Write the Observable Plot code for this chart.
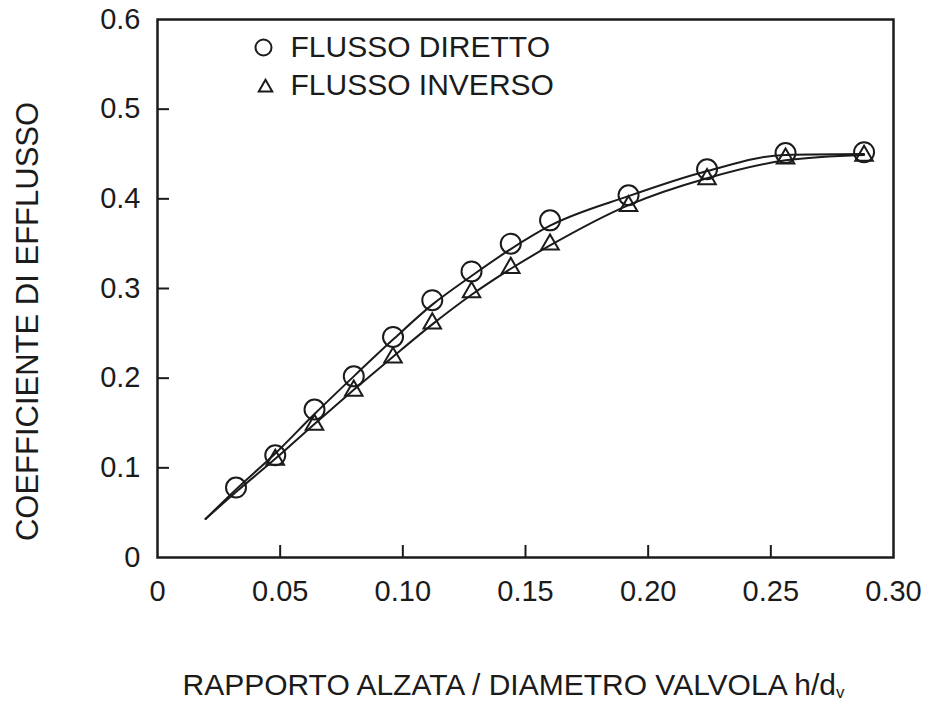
<!DOCTYPE html>
<html>
<head>
<meta charset="utf-8">
<script src="https://cdn.jsdelivr.net/npm/d3@7"></script>
<script src="https://cdn.jsdelivr.net/npm/@observablehq/plot@0.6"></script>
<style>
  html, body { margin: 0; padding: 0; background: #fff; }
  #chart svg { display: block; }
</style>
</head>
<body>
<div id="chart"></div>
<script>
// Lift ratio h/dv at which the discharge coefficient was measured
const liftRatio = [0.032, 0.048, 0.064, 0.080, 0.096, 0.112, 0.128, 0.144, 0.160, 0.192, 0.224, 0.256, 0.288];

// Measured discharge coefficients
const forwardFlow = [0.078, 0.114, 0.165, 0.202, 0.246, 0.287, 0.319, 0.350, 0.376, 0.404, 0.433, 0.451, 0.452];
const reverseLift = [0.048, 0.064, 0.080, 0.096, 0.112, 0.128, 0.144, 0.160, 0.192, 0.224, 0.256, 0.288];
const reverseFlow = [0.109, 0.148, 0.186, 0.223, 0.261, 0.296, 0.323, 0.349, 0.392, 0.422, 0.445, 0.448];

// Fitted curves (knots of the smooth trend lines)
const fitLift       = [0.0196, 0.032, 0.048, 0.064, 0.080, 0.096, 0.112, 0.128, 0.144, 0.160, 0.192, 0.224, 0.256, 0.288];
const forwardFitVal = [0.043, 0.076, 0.116, 0.160, 0.202, 0.243, 0.282, 0.314, 0.344, 0.370, 0.403, 0.431, 0.449, 0.450];
const reverseFitVal = [0.043, 0.073, 0.110, 0.149, 0.187, 0.224, 0.260, 0.293, 0.322, 0.348, 0.393, 0.423, 0.443, 0.449];

// Axis ticks and their labels
const xTickValues = [0, 0.05, 0.10, 0.15, 0.20, 0.25, 0.30];
const xTickLabels = ["0", "0.05", "0.10", "0.15", "0.20", "0.25", "0.30"];
const yTickValues = [0, 0.1, 0.2, 0.3, 0.4, 0.5, 0.6];
const yTickLabels = ["0", "0.1", "0.2", "0.3", "0.4", "0.5", "0.6"];
const xTickMarks = [0.05, 0.10, 0.15, 0.20, 0.25];
const yTickMarks = [0.1, 0.2, 0.3, 0.4, 0.5];

// Texts
const seriesNames = ["FLUSSO DIRETTO", "FLUSSO INVERSO"];
const xTitle = "RAPPORTO ALZATA / DIAMETRO VALVOLA h/d";
const xTitleSub = "v";
const yTitle = "COEFFICIENTE DI EFFLUSSO";

const forwardPoints = liftRatio.map((x, i) => ({x, y: forwardFlow[i]}));
const reversePoints = reverseLift.map((x, i) => ({x, y: reverseFlow[i]}));
const forwardFit = fitLift.map((x, i) => ({x, y: forwardFitVal[i]}));
const reverseFit = fitLift.map((x, i) => ({x, y: reverseFitVal[i]}));

const xLabel = new Map(xTickValues.map((v, i) => [v, xTickLabels[i]]));
const yLabel = new Map(yTickValues.map((v, i) => [v, yTickLabels[i]]));

const W = 938, H = 704;
const M = {top: 19, right: 45, bottom: 147, left: 157};
const innerW = W - M.left - M.right;
const innerH = H - M.top - M.bottom;
const ink = "#1b1b1b";
const tickLen = 12;

const plot = Plot.plot({
  width: W,
  height: H,
  marginTop: M.top,
  marginRight: M.right,
  marginBottom: M.bottom,
  marginLeft: M.left,
  style: {fontFamily: "'Liberation Sans', Arial, sans-serif", color: ink, background: "#fff"},
  x: {domain: [0, 0.30]},
  y: {domain: [0, 0.6]},
  marks: [
    Plot.axisX({ticks: xTickValues, tickFormat: d => xLabel.get(d), tickSize: 0, tickPadding: 23, fontSize: 29, label: null}),
    Plot.axisY({ticks: yTickValues, tickFormat: d => yLabel.get(d), tickSize: 0, tickPadding: 17, fontSize: 29, label: null}),
    // inward tick marks
    Plot.ruleX(xTickMarks, {x: d => d, insetTop: innerH - tickLen, stroke: ink, strokeWidth: 2}),
    Plot.ruleY(yTickMarks, {y: d => d, insetRight: innerW - tickLen, stroke: ink, strokeWidth: 2}),
    Plot.frame({stroke: ink, strokeWidth: 2.5}),
    // fitted curves
    Plot.line(forwardFit, {x: "x", y: "y", curve: "monotone-x", stroke: ink, strokeWidth: 2}),
    Plot.line(reverseFit, {x: "x", y: "y", curve: "monotone-x", stroke: ink, strokeWidth: 2}),
    // measurements
    Plot.dot(forwardPoints, {x: "x", y: "y", r: 10, stroke: ink, strokeWidth: 2, fill: "none"}),
    Plot.dot(reversePoints, {x: "x", y: "y", symbol: "triangle", r: 6.5, stroke: ink, strokeWidth: 2, fill: "none"}),
    // legend
    Plot.dot([0], {frameAnchor: "top-left", dx: 106, dy: 28, r: 8, stroke: ink, strokeWidth: 2, fill: "none"}),
    Plot.dot([0], {frameAnchor: "top-left", dx: 108, dy: 68, symbol: "triangle", r: 5, stroke: ink, strokeWidth: 2, fill: "none"}),
    Plot.text([seriesNames[0]], {frameAnchor: "top-left", dx: 133, dy: 28, text: d => d, textAnchor: "start", lineAnchor: "middle", fontSize: 30, fill: ink}),
    Plot.text([seriesNames[1]], {frameAnchor: "top-left", dx: 133, dy: 66, text: d => d, textAnchor: "start", lineAnchor: "middle", fontSize: 30, fill: ink}),
    // axis titles
    Plot.text([yTitle], {frameAnchor: "left", dx: -129, dy: 33, rotate: -90, text: d => d, textAnchor: "middle", lineAnchor: "middle", fontSize: 31, fill: ink}),
    Plot.text([xTitle], {frameAnchor: "bottom", dx: -12, dy: 128, text: d => d, textAnchor: "middle", lineAnchor: "middle", fontSize: 30, fill: ink})
  ]
});

// subscript on the x title
d3.select(plot).selectAll("text").filter(function() { return this.textContent === xTitle; })
  .each(function() {
    d3.select(this).append("tspan").attr("font-size", 17).attr("dy", "0.15em").text(xTitleSub);
  });

document.getElementById("chart").appendChild(plot);
</script>
</body>
</html>
